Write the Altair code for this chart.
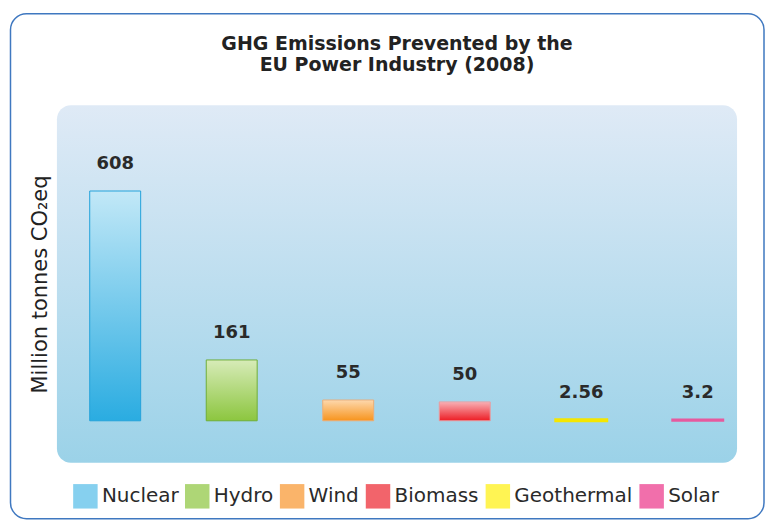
import altair as alt
import pandas as pd

# ---- data ----
categories = ["Nuclear", "Hydro", "Wind", "Biomass", "Geothermal", "Solar"]
values = [608, 161, 55, 50, 2.56, 3.2]
title_lines = ["GHG Emissions Prevented by the", "EU Power Industry (2008)"]
y_title = "Million tonnes CO₂eq"

# colour styles (top of gradient, bottom of gradient, outline, legend swatch)
grad_top = ["#c2e8f7", "#d7ebb8", "#fdd8ad", "#f8b0b5", "#fff9a0", "#f8b8d8"]
grad_bottom = ["#2aace1", "#8cc63f", "#f7941d", "#ed1c24", "#fff200", "#ec2a8b"]
outline = ["#25a3da", "#6fae3c", "#e8b07c", "#e3a3a8", "#f5e600", "#e65a9e"]
outline_width = [1, 1, 1, 1, 3, 2]
legend_color = ["#86d0ef", "#aed676", "#fab46a", "#f2646b", "#fff453", "#f16fab"]

df = pd.DataFrame({"cat": categories, "value": values})

W, H = 681, 358

def vgrad(c1, c2):
    return {"gradient": "linear", "x1": 0, "y1": 0, "x2": 0, "y2": 1,
            "stops": [{"offset": 0, "color": c1}, {"offset": 1, "color": c2}]}

x_enc = alt.X("cat:N", sort=categories,
              scale=alt.Scale(range=[0, 700], paddingInner=0, paddingOuter=0),
              axis=None)
y_enc = alt.Y("value:Q",
              scale=alt.Scale(domain=[-111, 835], nice=False, zero=False),
              axis=alt.Axis(title=y_title, labels=False, ticks=False,
                            domain=False, grid=False, titleFontSize=21,
                            titleFont="DejaVu Sans", titleFontWeight="normal",
                            titleColor="#222222", titlePadding=6))

base = alt.Chart(df)
one = alt.Data(values=[{"k": 1}])

frame = alt.Chart(one).mark_rect(
    fillOpacity=0, stroke="#3f78c0", strokeWidth=1.5, cornerRadius=16
).encode(
    x=alt.value(-46.5), x2=alt.value(708), y=alt.value(-91.5), y2=alt.value(414)
)

panel = alt.Chart(one).mark_rect(
    fill=vgrad("#dfeaf6", "#9bd2e8"), cornerRadius=14
).encode(
    x=alt.value(0), x2=alt.value(W), y=alt.value(0), y2=alt.value(H)
)

title = alt.Chart(one).mark_text(
    text=title_lines, font="DejaVu Sans", fontWeight="bold", fontSize=19,
    lineHeight=21, baseline="middle", align="center", color="#222222"
).encode(x=alt.value(W / 2), y=alt.value(-61))

flat = base.mark_bar(size=51).encode(
    x=x_enc, y=y_enc, y2=alt.datum(0),
    color=alt.Color("cat:N", sort=categories,
                    scale=alt.Scale(domain=categories, range=legend_color),
                    legend=alt.Legend(title=None, orient="none", legendX=16, legendY=379,
                                      direction="horizontal", symbolType="square",
                                      symbolSize=600, symbolStrokeWidth=0,
                                      labelFont="DejaVu Sans", labelFontSize=20,
                                      labelColor="#2a2a2a", labelOffset=4,
                                      columnPadding=6, labelLimit=300))
)

grad_layers = []
for i, c in enumerate(categories):
    grad_layers.append(
        base.transform_filter(alt.datum.cat == c).mark_bar(
            size=51, fill=vgrad(grad_top[i], grad_bottom[i]),
            stroke=outline[i], strokeWidth=outline_width[i]
        ).encode(x=x_enc, y=y_enc, y2=alt.datum(0))
    )

labels = base.mark_text(
    dy=-18, baseline="bottom", fontSize=18, fontWeight="bold",
    font="DejaVu Sans", color="#2a2a2a"
).encode(x=x_enc, y=y_enc, text=alt.Text("value:Q", format="~g"))

chart = alt.layer(frame, panel, title, flat, *grad_layers, labels).properties(
    width=W, height=H,
    padding={"left": 1, "top": 4, "right": 0, "bottom": 0},
    background="white"
).configure_view(
    strokeWidth=0
)

chart.save("out.html", embed_options={"renderer": "svg", "actions": False})
